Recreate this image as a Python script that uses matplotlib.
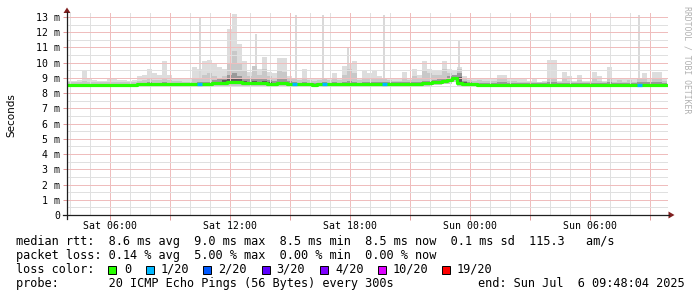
import numpy as np
import matplotlib
matplotlib.use("Agg")
import matplotlib.pyplot as plt
from matplotlib.patches import Rectangle, Polygon
from matplotlib.lines import Line2D

W, H = 697, 297

# one value per 15 minutes, hours counted from Sat 00:00 (Sat 03:50 .. Sun 09:50)
start_hour = 3 + 50 / 60
step_hours = 0.25

median_ms = [8.55, 8.55, 8.55, 8.55, 8.55, 8.55, 8.54, 8.54, 8.55, 8.55,
             8.55, 8.54, 8.54, 8.55, 8.6, 8.6, 8.6, 8.6, 8.6, 8.6,
             8.6, 8.6, 8.58, 8.58, 8.6, 8.6, 8.62, 8.62, 8.62, 8.64,
             8.64, 8.64, 8.7, 8.7, 8.7, 8.68, 8.65, 8.65, 8.65, 8.65,
             8.62, 8.62, 8.65, 8.65, 8.62, 8.6, 8.57, 8.57, 8.57, 8.55,
             8.57, 8.57, 8.57, 8.57, 8.57, 8.57, 8.58, 8.58, 8.57, 8.57,
             8.57, 8.6, 8.6, 8.6, 8.6, 8.62, 8.62, 8.62, 8.6, 8.62,
             8.62, 8.65, 8.68, 8.7, 8.72, 8.78, 8.85, 9.0, 8.65, 8.58,
             8.57, 8.57, 8.56, 8.56, 8.56, 8.55, 8.55, 8.55, 8.55, 8.55,
             8.55, 8.54, 8.54, 8.54, 8.54, 8.54, 8.55, 8.55, 8.54, 8.54,
             8.54, 8.54, 8.54, 8.54, 8.55, 8.55, 8.55, 8.54, 8.54, 8.55,
             8.55, 8.55, 8.55, 8.56, 8.56, 8.56, 8.56, 8.56, 8.56, 8.55]

smoke_max = [8.8, 8.8, 8.85, 9.5, 8.9, 8.85, 8.8, 8.8, 9.0, 9.0,
             8.85, 8.85, 8.8, 8.85, 9.1, 9.2, 9.6, 9.3, 9.2, 10.1,
             9.2, 8.95, 9.0, 8.9, 8.9, 9.7, 9.6, 10.1, 10.2, 9.9,
             9.7, 9.6, 12.2, 13.2, 11.2, 10.1, 9.4, 9.6, 9.6, 10.4,
             9.4, 9.3, 10.3, 10.3, 9.1, 9.0, 9.0, 9.6, 9.0, 8.95,
             9.0, 9.0, 9.0, 9.3, 9.0, 9.8, 10.0, 10.1, 9.0, 9.5,
             9.3, 9.5, 9.1, 9.0, 9.0, 9.0, 8.95, 9.4, 9.0, 9.6,
             9.2, 10.1, 9.6, 9.5, 9.5, 10.1, 9.6, 9.5, 9.7, 9.1,
             9.0, 8.95, 9.0, 8.9, 8.9, 8.9, 9.2, 9.2, 8.9, 8.9,
             8.9, 8.9, 8.8, 8.9, 8.75, 8.8, 10.2, 10.2, 8.8, 9.4,
             9.1, 8.8, 9.2, 8.8, 8.8, 9.4, 9.1, 8.8, 9.7, 8.9,
             9.0, 8.9, 9.0, 8.9, 9.0, 9.3, 8.9, 9.4, 9.4, 9.0]

smoke_upper = [8.72, 8.72, 8.72, 8.8, 8.72, 8.72, 8.7, 8.7, 8.75, 8.75,
               8.72, 8.72, 8.7, 8.72, 8.8, 8.85, 8.9, 8.85, 8.85, 9.0,
               8.85, 8.8, 8.8, 8.75, 8.75, 8.9, 9.0, 9.2, 9.3, 9.1,
               9.0, 9.1, 10.0, 10.8, 10.0, 9.5, 9.1, 9.8, 9.2, 9.6,
               9.1, 9.0, 9.5, 9.4, 8.9, 9.0, 8.85, 9.0, 8.85, 8.8,
               8.85, 9.0, 8.85, 8.9, 8.85, 9.2, 9.6, 9.3, 8.85, 9.0,
               8.95, 9.0, 8.9, 9.0, 8.85, 8.8, 8.8, 8.95, 8.85, 9.1,
               9.0, 9.5, 9.3, 9.2, 9.2, 9.6, 9.3, 9.2, 9.6, 8.9,
               8.85, 8.8, 8.85, 8.8, 8.8, 8.8, 8.95, 8.95, 8.8, 8.8,
               8.75, 8.75, 8.72, 8.75, 8.7, 8.72, 9.0, 9.0, 8.72, 8.95,
               8.8, 8.72, 8.85, 8.72, 8.72, 9.0, 8.8, 8.72, 9.0, 8.75,
               8.85, 8.75, 8.85, 8.75, 8.9, 8.9, 8.75, 8.95, 9.0, 8.8]

smoke_inner = [8.62, 8.62, 8.62, 8.62, 8.62, 8.62, 8.6, 8.6, 8.62, 8.62,
               8.62, 8.62, 8.6, 8.62, 8.68, 8.68, 8.7, 8.68, 8.68, 8.7,
               8.68, 8.65, 8.65, 8.65, 8.65, 8.68, 8.7, 8.72, 8.75, 8.85,
               8.9, 9.0, 9.2, 9.3, 9.1, 9.0, 8.9, 9.0, 8.95, 9.0,
               8.85, 8.8, 8.9, 8.9, 8.8, 8.7, 8.68, 8.7, 8.68, 8.66,
               8.68, 8.72, 8.68, 8.7, 8.68, 8.75, 8.8, 8.75, 8.68, 8.72,
               8.7, 8.72, 8.7, 8.72, 8.7, 8.7, 8.7, 8.72, 8.7, 8.75,
               8.75, 8.8, 8.8, 8.85, 8.9, 9.0, 9.1, 9.2, 9.3, 8.8,
               8.7, 8.68, 8.68, 8.66, 8.66, 8.66, 8.7, 8.7, 8.65, 8.65,
               8.65, 8.64, 8.64, 8.64, 8.64, 8.64, 8.7, 8.7, 8.64, 8.68,
               8.66, 8.64, 8.66, 8.64, 8.64, 8.68, 8.66, 8.64, 8.7, 8.66,
               8.68, 8.66, 8.68, 8.66, 8.72, 8.72, 8.7, 8.72, 8.72, 8.68]

smoke_core = [8.58] * 29 + [8.7, 8.75, 8.85, 8.95, 9.0, 8.9, 8.8, 8.72, 8.8, 8.75, 8.8,
                            8.7, 8.68, 8.72, 8.72, 8.68] + [8.6] * 29 + \
             [8.7, 8.75, 8.82, 8.95, 9.05, 8.75, 8.6] + [8.58] * 39

smoke_min = [8.42, 8.42, 8.43, 8.42, 8.42, 8.43, 8.42, 8.42, 8.42, 8.43,
             8.42, 8.42, 8.42, 8.42, 8.45, 8.45, 8.45, 8.45, 8.45, 8.45,
             8.45, 8.45, 8.44, 8.44, 8.45, 8.45, 8.46, 8.46, 8.46, 8.48,
             8.48, 8.48, 8.5, 8.5, 8.5, 8.48, 8.48, 8.48, 8.48, 8.48,
             8.46, 8.46, 8.48, 8.48, 8.46, 8.45, 8.43, 8.43, 8.43, 8.42,
             8.43, 8.43, 8.43, 8.43, 8.43, 8.43, 8.44, 8.44, 8.43, 8.43,
             8.43, 8.45, 8.45, 8.45, 8.45, 8.46, 8.46, 8.46, 8.45, 8.46,
             8.46, 8.48, 8.5, 8.52, 8.54, 8.58, 8.62, 8.7, 8.5, 8.44,
             8.43, 8.43, 8.42, 8.42, 8.42, 8.42, 8.42, 8.42, 8.42, 8.42,
             8.42, 8.41, 8.41, 8.41, 8.41, 8.41, 8.42, 8.42, 8.41, 8.41,
             8.41, 8.41, 8.41, 8.41, 8.42, 8.42, 8.42, 8.41, 8.41, 8.42,
             8.42, 8.42, 8.42, 8.43, 8.43, 8.43, 8.43, 8.43, 8.43, 8.42]

# single-sample outliers (hour, max ping in ms)
spike_hours = [10.47, 13.28, 15.28, 16.62, 17.87, 19.67, 23.45, 32.46]
spike_ms = [13.0, 11.9, 13.1, 13.1, 11.0, 13.1, 11.4, 13.1]

# steps that lost pings (index into loss_colors)
loss_steps = [26, 45, 51, 63, 114]
loss_level = [1, 1, 1, 1, 1]

loss_labels = ["0", "1/20", "2/20", "3/20", "4/20", "10/20", "19/20"]
loss_colors = ["#26ff00", "#00b8ff", "#0059ff", "#5e00ff", "#7e00ff", "#dd00ff", "#ff0000"]

time_ticks = [6, 12, 18, 24, 30]
time_labels = ["Sat 06:00", "Sat 12:00", "Sat 18:00", "Sun 00:00", "Sun 06:00"]
y_ticks = list(range(14))
y_labels = ["0"] + [f"{v} m" for v in range(1, 14)]

legend_lines = [
    "median rtt:  8.6 ms avg  9.0 ms max  8.5 ms min  8.5 ms now  0.1 ms sd  115.3   am/s",
    "packet loss: 0.14 % avg  5.00 % max  0.00 % min  0.00 % now",
    "loss color:",
    "probe:       20 ICMP Echo Pings (56 Bytes) every 300s",
]
end_text = "end: Sun Jul  6 09:48:04 2025"

mono = "DejaVu Sans Mono"
mgrid_col = "#efbdbd"
grid_col = "#e0e0e0"
axis_col = (0.12, 0.12, 0.12)
arrow_col = (0.5, 0.12, 0.12)

fig = plt.figure(figsize=(W / 100, H / 100), dpi=100)
fig.patch.set_facecolor("white")

def fx(px):
    return px / W

def fy(py):
    return 1 - py / H

ax = fig.add_axes([fx(67), fy(215), (668 - 67) / W, (215 - 13.2) / H])
ax.set_facecolor("white")

n = len(median_ms)
t = start_hour + step_hours * np.arange(n + 1)

def ext(v):
    return list(v) + [v[-1]]

ax.fill_between(t, ext(smoke_min), ext(smoke_max), step="post", color="#dddddd", lw=0)
ax.vlines(spike_hours, 8.5, spike_ms, color="#d6d6d6", lw=1.3, zorder=1)
ax.fill_between(t, ext(smoke_min), ext(smoke_upper), step="post", color="#c8c8c8", lw=0)
ax.fill_between(t, ext(median_ms), ext(smoke_inner), step="post", color="#9a9a9a", lw=0)
ax.fill_between(t, ext(median_ms), ext(smoke_core), step="post", color="#5a5a5a", lw=0)

ax.step(t, ext(median_ms), where="post", color=loss_colors[0], lw=2.3, zorder=3)
for i, lv in zip(loss_steps, loss_level):
    ax.plot([t[i], t[i + 1]], [median_ms[i], median_ms[i]], color=loss_colors[lv],
            lw=2.3, solid_capstyle="butt", zorder=4)

ax.set_xlim(start_hour, start_hour + (668 - 66.67) / 20)
ax.set_ylim(0, 13.25)

major_x = np.arange(6, 34, 3)
ax.set_xticks(major_x)
ax.set_xticklabels([time_labels[time_ticks.index(h)] if h in time_ticks else "" for h in major_x],
                   fontfamily=mono, fontsize=7.1)
ax.set_xticks(np.arange(4, 34, 1), minor=True)
ax.set_yticks(y_ticks)
ax.set_yticklabels(y_labels, fontfamily=mono, fontsize=7.1)
ax.set_yticks(np.arange(0.5, 13.5, 1), minor=True)

ax.tick_params(axis="both", which="major", color="#e49a9a", width=0.72)
ax.tick_params(axis="both", which="minor", color=grid_col, width=0.72, length=0)
ax.tick_params(axis="x", which="major", length=3.5, pad=0.5)
ax.tick_params(axis="y", which="major", length=3, pad=2)

ax.grid(which="major", color=mgrid_col, linestyle="-", linewidth=0.72)
ax.grid(which="minor", color=grid_col, linestyle="-", linewidth=0.72)
ax.set_axisbelow("line")
for s in ax.spines.values():
    s.set_visible(False)

# axes lines and arrows
fig.add_artist(Line2D([fx(67), fx(67)], [fy(219), fy(12)], color=axis_col, lw=0.9))
fig.add_artist(Line2D([fx(63), fx(669)], [fy(215), fy(215)], color=axis_col, lw=0.9))
fig.add_artist(Polygon([(fx(63.5), fy(13)), (fx(70.5), fy(13)), (fx(67), fy(7.5))],
                       closed=True, color=arrow_col, lw=0))
fig.add_artist(Polygon([(fx(668.5), fy(211.5)), (fx(668.5), fy(218.5)), (fx(674.5), fy(215))],
                       closed=True, color=arrow_col, lw=0))

fig.text(fx(11), fy(115), "Seconds", rotation=90, ha="center", va="center",
         fontsize=7.5, family="DejaVu Sans")
fig.text(fx(686.5), fy(60), "RRDTOOL / TOBI OETIKER", rotation=270, ha="center", va="center",
         fontsize=5.9, family=mono, color="#b0b0b0")

# legend block
base_y = [245, 259, 273, 287]
for line, by in zip(legend_lines, base_y):
    fig.text(fx(16), fy(by), line, family=mono, fontsize=8.54, va="baseline", ha="left")
fig.text(fx(478), fy(287), end_text, family=mono, fontsize=8.54, va="baseline", ha="left")

box_x = [108, 146, 203.3, 261.7, 320, 377.7, 442.3]
text_x = [124, 160.7, 218.3, 276.7, 335, 392.3, 456.7]
for bx, tx, lab, col in zip(box_x, text_x, loss_labels, loss_colors):
    fig.add_artist(Rectangle((fx(bx), fy(273.5)), 8 / W, 8 / H, facecolor=col,
                             edgecolor="black", lw=0.7))
    fig.text(fx(tx), fy(273), lab, family=mono, fontsize=8.54, va="baseline", ha="left")

fig.savefig("out.png", dpi=100, facecolor="white")
